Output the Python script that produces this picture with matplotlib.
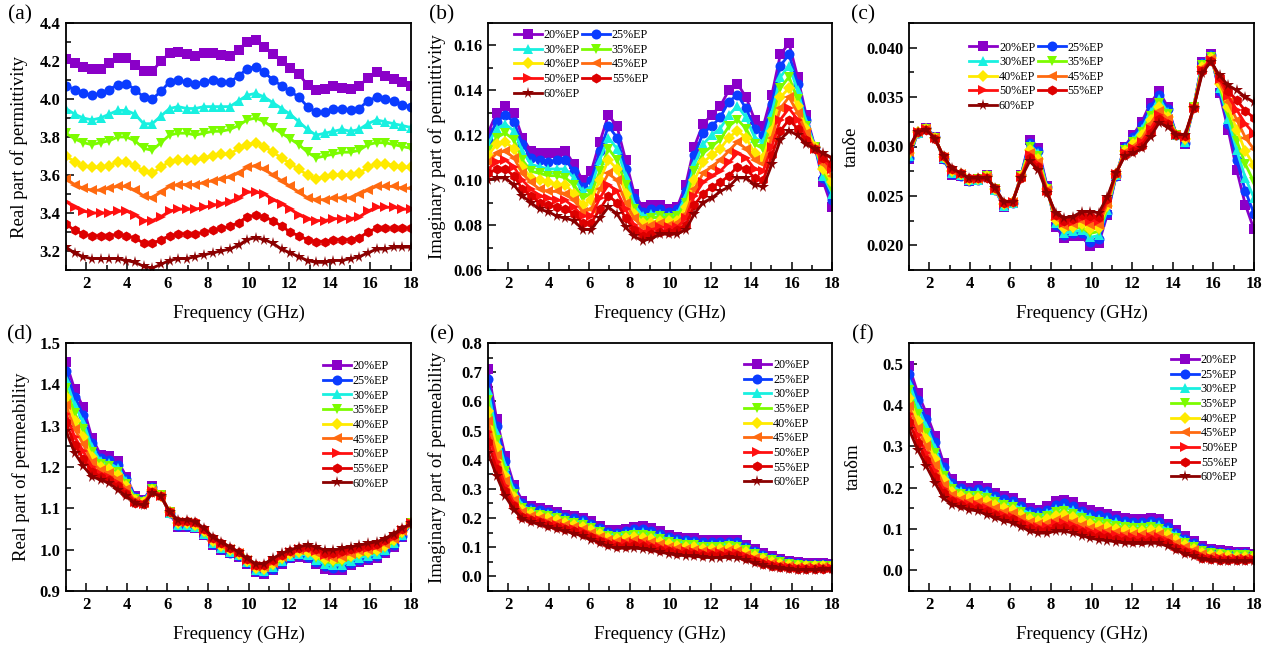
import matplotlib
matplotlib.use('Agg')
import matplotlib.pyplot as plt
from matplotlib.ticker import MultipleLocator, FormatStrFormatter
import numpy as np

plt.rcParams['font.family'] = ['Liberation Serif', 'DejaVu Serif']

# ---------------- data ----------------
freq = [1.0, 1.425, 1.85, 2.275, 2.7, 3.125, 3.55, 3.975, 4.4, 4.825, 5.25, 5.675,
        6.1, 6.525, 6.95, 7.375, 7.8, 8.225, 8.65, 9.075, 9.5, 9.925, 10.35, 10.775,
        11.2, 11.625, 12.05, 12.475, 12.9, 13.325, 13.75, 14.175, 14.6, 15.025,
        15.45, 15.875, 16.3, 16.725, 17.15, 17.575, 18.0]

series_labels = ['20%EP', '25%EP', '30%EP', '35%EP', '40%EP',
                 '45%EP', '50%EP', '55%EP', '60%EP']

# (a) real permittivity, one list per series
eps_real_20 = [4.21,4.19,4.17,4.16,4.16,4.19,4.215,4.215,4.18,4.145,4.145,4.20,4.24,4.25,4.235,4.225,4.24,4.24,4.23,4.225,4.26,4.30,4.31,4.275,4.235,4.20,4.165,4.13,4.075,4.05,4.055,4.07,4.06,4.055,4.07,4.11,4.14,4.12,4.105,4.09,4.07]
eps_real_25 = [4.07,4.05,4.03,4.02,4.03,4.05,4.075,4.08,4.05,4.01,4.00,4.04,4.09,4.10,4.09,4.08,4.09,4.10,4.09,4.09,4.12,4.16,4.17,4.14,4.10,4.07,4.04,4.01,3.96,3.93,3.93,3.95,3.95,3.94,3.95,3.99,4.01,4.00,3.99,3.97,3.96]
eps_real_30 = [3.95,3.92,3.90,3.89,3.90,3.92,3.94,3.94,3.92,3.87,3.87,3.91,3.95,3.96,3.95,3.95,3.96,3.96,3.96,3.96,3.99,4.02,4.03,4.01,3.98,3.95,3.92,3.88,3.84,3.81,3.82,3.83,3.84,3.83,3.84,3.87,3.89,3.88,3.87,3.86,3.85]
eps_real_35 = [3.82,3.79,3.77,3.76,3.77,3.78,3.80,3.80,3.78,3.74,3.73,3.77,3.81,3.82,3.82,3.81,3.82,3.83,3.83,3.84,3.86,3.89,3.90,3.88,3.85,3.82,3.79,3.76,3.72,3.69,3.70,3.71,3.72,3.72,3.73,3.76,3.77,3.77,3.76,3.75,3.74]
eps_real_40 = [3.70,3.67,3.65,3.64,3.64,3.65,3.67,3.67,3.65,3.62,3.61,3.64,3.67,3.68,3.68,3.68,3.69,3.70,3.71,3.71,3.74,3.76,3.77,3.75,3.72,3.69,3.66,3.63,3.60,3.58,3.59,3.60,3.60,3.60,3.61,3.64,3.66,3.66,3.65,3.64,3.64]
eps_real_45 = [3.58,3.55,3.53,3.52,3.52,3.53,3.54,3.54,3.52,3.49,3.48,3.51,3.54,3.55,3.55,3.55,3.56,3.57,3.58,3.59,3.61,3.64,3.65,3.63,3.60,3.57,3.54,3.51,3.48,3.47,3.47,3.48,3.48,3.48,3.50,3.52,3.54,3.54,3.54,3.53,3.53]
eps_real_50 = [3.46,3.43,3.41,3.40,3.40,3.40,3.41,3.41,3.39,3.36,3.36,3.38,3.41,3.42,3.42,3.42,3.43,3.44,3.45,3.46,3.48,3.51,3.51,3.50,3.47,3.45,3.42,3.39,3.37,3.36,3.36,3.37,3.37,3.37,3.38,3.41,3.43,3.43,3.43,3.42,3.42]
eps_real_55 = [3.34,3.31,3.29,3.28,3.28,3.28,3.29,3.28,3.27,3.24,3.24,3.26,3.28,3.29,3.29,3.29,3.30,3.31,3.32,3.33,3.35,3.38,3.39,3.38,3.36,3.33,3.30,3.28,3.26,3.25,3.25,3.26,3.26,3.26,3.27,3.30,3.32,3.32,3.32,3.32,3.32]
eps_real_60 = [3.22,3.19,3.17,3.16,3.16,3.16,3.16,3.15,3.14,3.12,3.11,3.13,3.15,3.16,3.16,3.17,3.18,3.19,3.20,3.21,3.23,3.26,3.27,3.26,3.24,3.21,3.19,3.17,3.15,3.14,3.14,3.15,3.15,3.16,3.17,3.19,3.21,3.21,3.22,3.22,3.22]

# (b) imaginary permittivity, one row per frequency (columns: 20%..60%EP)
eps_imag_rows = [
    [.121,.118,.116,.113,.111,.108,.105,.103,.100],
    [.130,.126,.123,.119,.116,.112,.108,.105,.101],
    [.133,.129,.125,.121,.117,.113,.109,.105,.101],
    [.130,.126,.122,.118,.114,.110,.106,.102,.098],
    [.119,.116,.113,.109,.106,.103,.100,.096,.093],
    [.113,.110,.107,.104,.101,.099,.096,.093,.090],
    [.112,.109,.106,.103,.100,.096,.093,.090,.087],
    [.112,.108,.105,.102,.099,.095,.092,.089,.086],
    [.112,.109,.105,.102,.098,.095,.091,.088,.084],
    [.113,.109,.105,.101,.098,.094,.091,.087,.083],
    [.107,.104,.101,.098,.094,.091,.088,.085,.082],
    [.100,.097,.095,.092,.089,.086,.084,.081,.078],
    [.104,.100,.097,.094,.091,.087,.084,.081,.078],
    [.117,.113,.109,.104,.100,.096,.092,.087,.083],
    [.129,.124,.119,.114,.109,.103,.098,.093,.088],
    [.124,.119,.114,.109,.105,.100,.095,.090,.085],
    [.109,.105,.102,.098,.094,.090,.087,.083,.079],
    [.094,.092,.089,.087,.085,.083,.080,.078,.075],
    [.088,.086,.084,.082,.081,.079,.077,.075,.073],
    [.089,.087,.085,.083,.081,.080,.078,.076,.074],
    [.089,.087,.085,.084,.082,.081,.079,.077,.076],
    [.087,.086,.084,.083,.082,.080,.079,.077,.076],
    [.088,.087,.085,.084,.082,.081,.079,.078,.076],
    [.098,.095,.093,.090,.088,.085,.083,.080,.078],
    [.115,.111,.107,.104,.100,.096,.093,.089,.085],
    [.125,.121,.116,.112,.108,.103,.099,.094,.090],
    [.129,.124,.120,.115,.111,.106,.102,.097,.092],
    [.133,.128,.123,.118,.114,.109,.104,.099,.095],
    [.140,.135,.129,.124,.119,.113,.108,.102,.097],
    [.143,.138,.133,.127,.122,.117,.112,.106,.101],
    [.137,.132,.128,.123,.119,.114,.110,.105,.101],
    [.127,.123,.119,.116,.112,.109,.105,.101,.098],
    [.124,.120,.117,.114,.110,.107,.104,.100,.097],
    [.138,.134,.130,.126,.122,.119,.115,.111,.107],
    [.156,.151,.146,.141,.137,.132,.127,.122,.118],
    [.161,.156,.151,.146,.141,.137,.132,.127,.122],
    [.146,.143,.140,.136,.133,.130,.127,.123,.120],
    [.129,.127,.126,.124,.123,.121,.119,.118,.116],
    [.115,.115,.115,.115,.115,.114,.114,.114,.114],
    [.099,.101,.102,.104,.105,.107,.109,.110,.112],
    [.088,.091,.094,.096,.099,.102,.105,.107,.110],
]

# (c) dielectric loss tangent, one row per frequency
tan_e_rows = [
    [.0287,.0288,.0290,.0291,.0293,.0294,.0296,.0297,.0299],
    [.0314,.0314,.0314,.0314,.0315,.0315,.0315,.0315,.0315],
    [.0319,.0319,.0318,.0318,.0318,.0318,.0318,.0317,.0317],
    [.0310,.0310,.0310,.0309,.0309,.0309,.0309,.0308,.0308],
    [.0287,.0287,.0288,.0288,.0289,.0289,.0289,.0290,.0290],
    [.0271,.0272,.0273,.0274,.0275,.0275,.0276,.0277,.0278],
    [.0270,.0270,.0271,.0271,.0272,.0272,.0272,.0273,.0273],
    [.0265,.0265,.0266,.0266,.0266,.0267,.0267,.0268,.0268],
    [.0266,.0266,.0266,.0267,.0267,.0267,.0267,.0268,.0268],
    [.0271,.0271,.0270,.0270,.0270,.0269,.0269,.0268,.0268],
    [.0256,.0256,.0256,.0257,.0257,.0257,.0257,.0258,.0258],
    [.0239,.0240,.0240,.0241,.0242,.0242,.0243,.0243,.0244],
    [.0243,.0243,.0243,.0243,.0244,.0244,.0244,.0244,.0244],
    [.0271,.0271,.0270,.0270,.0270,.0269,.0269,.0268,.0268],
    [.0307,.0304,.0302,.0299,.0296,.0293,.0291,.0288,.0285],
    [.0298,.0295,.0293,.0290,.0287,.0284,.0282,.0279,.0276],
    [.0260,.0259,.0258,.0257,.0257,.0256,.0255,.0254,.0253],
    [.0219,.0221,.0223,.0224,.0226,.0228,.0230,.0231,.0233],
    [.0207,.0210,.0212,.0215,.0218,.0220,.0223,.0225,.0228],
    [.0209,.0212,.0214,.0217,.0219,.0222,.0224,.0227,.0229],
    [.0209,.0212,.0215,.0218,.0222,.0225,.0228,.0231,.0234],
    [.0199,.0203,.0208,.0212,.0217,.0221,.0225,.0230,.0234],
    [.0202,.0206,.0210,.0214,.0218,.0221,.0225,.0229,.0233],
    [.0231,.0233,.0236,.0238,.0240,.0242,.0245,.0247,.0249],
    [.0270,.0270,.0271,.0271,.0272,.0272,.0272,.0273,.0273],
    [.0300,.0299,.0298,.0296,.0295,.0294,.0293,.0291,.0290],
    [.0312,.0310,.0307,.0305,.0303,.0300,.0298,.0295,.0293],
    [.0325,.0322,.0318,.0315,.0312,.0308,.0305,.0301,.0298],
    [.0344,.0340,.0335,.0331,.0327,.0323,.0318,.0314,.0310],
    [.0356,.0352,.0348,.0344,.0340,.0336,.0332,.0328,.0324],
    [.0340,.0338,.0335,.0333,.0330,.0328,.0325,.0323,.0320],
    [.0312,.0312,.0312,.0312,.0312,.0312,.0312,.0312,.0312],
    [.0303,.0304,.0305,.0306,.0308,.0309,.0310,.0311,.0312],
    [.0340,.0340,.0340,.0340,.0340,.0339,.0339,.0339,.0339],
    [.0386,.0385,.0383,.0382,.0380,.0379,.0377,.0376,.0374],
    [.0394,.0393,.0392,.0391,.0390,.0389,.0388,.0387,.0386],
    [.0354,.0356,.0359,.0361,.0363,.0365,.0368,.0370,.0372],
    [.0317,.0323,.0328,.0334,.0340,.0345,.0351,.0356,.0362],
    [.0276,.0286,.0296,.0306,.0317,.0327,.0337,.0347,.0357],
    [.0241,.0255,.0268,.0282,.0295,.0309,.0323,.0336,.0350],
    [.0216,.0232,.0248,.0264,.0281,.0297,.0313,.0329,.0345],
]

# (d) real permeability, one row per frequency
mu_real_rows = [
    [1.453,1.432,1.412,1.391,1.370,1.349,1.329,1.308,1.287],
    [1.388,1.369,1.350,1.330,1.311,1.292,1.273,1.253,1.234],
    [1.344,1.326,1.309,1.291,1.273,1.255,1.238,1.220,1.202],
    [1.271,1.259,1.248,1.236,1.224,1.212,1.201,1.189,1.177],
    [1.230,1.222,1.215,1.207,1.200,1.192,1.184,1.177,1.169],
    [1.226,1.218,1.210,1.202,1.194,1.185,1.177,1.169,1.161],
    [1.214,1.205,1.197,1.188,1.180,1.171,1.162,1.154,1.145],
    [1.177,1.171,1.165,1.159,1.153,1.147,1.141,1.135,1.129],
    [1.129,1.127,1.125,1.123,1.121,1.118,1.116,1.114,1.112],
    [1.121,1.119,1.118,1.116,1.115,1.113,1.111,1.110,1.108],
    [1.153,1.151,1.149,1.147,1.145,1.143,1.141,1.139,1.137],
    [1.133,1.133,1.132,1.132,1.131,1.131,1.130,1.130,1.129],
    [1.088,1.088,1.089,1.090,1.090,1.090,1.091,1.092,1.092],
    [1.056,1.058,1.060,1.062,1.064,1.066,1.068,1.070,1.072],
    [1.056,1.058,1.060,1.062,1.064,1.066,1.068,1.070,1.072],
    [1.052,1.054,1.056,1.058,1.060,1.062,1.064,1.066,1.068],
    [1.035,1.037,1.039,1.041,1.044,1.046,1.048,1.050,1.052],
    [1.011,1.014,1.016,1.019,1.021,1.024,1.026,1.029,1.031],
    [0.999,1.002,1.004,1.007,1.009,1.012,1.014,1.017,1.019],
    [0.991,0.993,0.995,0.997,0.999,1.001,1.003,1.005,1.007],
    [0.983,0.985,0.986,0.988,0.989,0.991,0.992,0.994,0.995],
    [0.966,0.968,0.969,0.971,0.973,0.974,0.976,0.977,0.979],
    [0.946,0.949,0.951,0.954,0.956,0.959,0.961,0.964,0.966],
    [0.942,0.945,0.948,0.951,0.954,0.957,0.960,0.963,0.966],
    [0.950,0.954,0.957,0.961,0.965,0.968,0.972,0.975,0.979],
    [0.966,0.969,0.972,0.975,0.979,0.982,0.985,0.988,0.991],
    [0.979,0.982,0.984,0.987,0.989,0.992,0.994,0.997,0.999],
    [0.983,0.986,0.989,0.992,0.995,0.998,1.001,1.004,1.007],
    [0.979,0.983,0.987,0.991,0.995,0.999,1.003,1.007,1.011],
    [0.966,0.971,0.976,0.981,0.987,0.992,0.997,1.002,1.007],
    [0.954,0.960,0.965,0.971,0.977,0.982,0.988,0.993,0.999],
    [0.950,0.956,0.962,0.968,0.975,0.981,0.987,0.993,0.999],
    [0.950,0.957,0.963,0.970,0.977,0.983,0.990,0.996,1.003],
    [0.962,0.968,0.973,0.979,0.985,0.990,0.996,1.001,1.007],
    [0.971,0.976,0.981,0.986,0.991,0.996,1.001,1.006,1.011],
    [0.975,0.980,0.985,0.990,0.995,1.000,1.005,1.010,1.015],
    [0.979,0.984,0.989,0.994,0.999,1.004,1.009,1.014,1.019],
    [0.991,0.996,1.000,1.005,1.009,1.014,1.018,1.023,1.027],
    [1.007,1.011,1.015,1.019,1.023,1.027,1.031,1.035,1.039],
    [1.031,1.034,1.036,1.039,1.042,1.044,1.047,1.049,1.052],
    [1.064,1.064,1.064,1.064,1.064,1.064,1.064,1.064,1.064],
]

# (e) imaginary permeability, one row per frequency
mu_imag_rows = [
    [.711,.675,.639,.603,.568,.532,.496,.460,.424],
    [.539,.515,.490,.466,.442,.417,.393,.368,.344],
    [.413,.396,.379,.361,.344,.327,.310,.292,.275],
    [.315,.304,.294,.283,.272,.261,.251,.240,.229],
    [.258,.250,.243,.235,.228,.220,.212,.205,.197],
    [.241,.234,.227,.220,.214,.207,.200,.193,.186],
    [.233,.226,.219,.212,.206,.199,.192,.185,.178],
    [.227,.220,.213,.206,.199,.191,.184,.177,.170],
    [.220,.213,.206,.199,.192,.184,.177,.170,.163],
    [.212,.205,.198,.191,.184,.176,.169,.162,.155],
    [.206,.199,.191,.184,.177,.169,.162,.154,.147],
    [.201,.193,.185,.177,.170,.162,.154,.146,.138],
    [.189,.181,.173,.165,.158,.150,.142,.134,.126],
    [.172,.165,.158,.151,.144,.136,.129,.122,.115],
    [.158,.151,.144,.137,.131,.124,.117,.110,.103],
    [.158,.150,.143,.135,.128,.120,.112,.105,.097],
    [.163,.155,.147,.138,.130,.122,.114,.105,.097],
    [.170,.161,.152,.143,.134,.124,.115,.106,.097],
    [.172,.162,.153,.143,.133,.123,.113,.104,.094],
    [.166,.156,.147,.137,.128,.118,.108,.099,.089],
    [.155,.146,.137,.128,.119,.110,.101,.092,.083],
    [.143,.135,.127,.119,.111,.102,.094,.086,.078],
    [.135,.127,.120,.112,.104,.096,.088,.081,.073],
    [.132,.124,.117,.109,.102,.094,.086,.079,.071],
    [.130,.122,.115,.107,.100,.092,.084,.077,.069],
    [.124,.117,.109,.102,.095,.088,.080,.073,.066],
    [.124,.117,.109,.102,.094,.087,.079,.072,.064],
    [.124,.117,.109,.102,.094,.087,.079,.072,.064],
    [.126,.119,.111,.104,.096,.089,.081,.074,.066],
    [.124,.117,.109,.102,.094,.087,.079,.072,.064],
    [.109,.102,.096,.089,.082,.075,.069,.062,.055],
    [.094,.088,.082,.076,.070,.064,.058,.052,.046],
    [.080,.075,.070,.064,.059,.054,.049,.043,.038],
    [.069,.064,.060,.055,.051,.046,.041,.037,.032],
    [.060,.056,.052,.048,.044,.040,.036,.032,.028],
    [.052,.049,.045,.042,.038,.035,.031,.028,.024],
    [.048,.045,.042,.039,.036,.032,.029,.026,.023],
    [.046,.043,.040,.037,.035,.032,.029,.026,.023],
    [.046,.043,.040,.037,.035,.032,.029,.026,.023],
    [.045,.042,.040,.037,.035,.032,.029,.027,.024],
    [.044,.042,.039,.037,.035,.032,.030,.027,.025],
]

# (f) magnetic loss tangent, one row per frequency
tan_m_rows = [
    [.494,.475,.456,.437,.418,.398,.379,.360,.341],
    [.430,.413,.396,.378,.361,.344,.327,.309,.292],
    [.381,.365,.349,.333,.317,.300,.284,.268,.252],
    [.325,.311,.297,.283,.269,.254,.240,.226,.212],
    [.260,.249,.239,.228,.218,.207,.196,.186,.175],
    [.220,.212,.205,.197,.190,.182,.174,.167,.159],
    [.204,.198,.191,.185,.179,.172,.166,.159,.153],
    [.200,.193,.187,.180,.174,.167,.160,.154,.147],
    [.204,.196,.189,.181,.174,.166,.158,.151,.143],
    [.200,.192,.184,.176,.168,.159,.151,.143,.135],
    [.187,.180,.172,.165,.157,.150,.142,.135,.127],
    [.179,.172,.164,.157,.150,.142,.135,.127,.120],
    [.175,.168,.160,.153,.145,.138,.130,.123,.115],
    [.163,.156,.149,.141,.134,.127,.119,.112,.105],
    [.151,.144,.137,.130,.123,.116,.109,.102,.095],
    [.147,.140,.133,.126,.119,.111,.104,.097,.090],
    [.155,.147,.139,.131,.123,.114,.106,.098,.090],
    [.167,.158,.149,.140,.131,.122,.113,.104,.095],
    [.171,.162,.152,.143,.133,.124,.114,.105,.095],
    [.165,.156,.146,.137,.128,.118,.109,.099,.090],
    [.153,.144,.136,.127,.119,.110,.101,.093,.084],
    [.145,.137,.128,.120,.112,.103,.095,.086,.078],
    [.141,.133,.124,.116,.108,.099,.091,.082,.074],
    [.137,.129,.121,.113,.105,.096,.088,.080,.072],
    [.131,.123,.116,.108,.100,.092,.085,.077,.069],
    [.127,.119,.112,.104,.097,.089,.081,.074,.066],
    [.124,.117,.109,.102,.095,.087,.080,.072,.065],
    [.124,.117,.109,.102,.095,.087,.080,.072,.065],
    [.127,.119,.112,.104,.097,.089,.081,.074,.066],
    [.123,.116,.109,.101,.094,.087,.080,.072,.065],
    [.111,.104,.098,.091,.085,.078,.071,.065,.058],
    [.097,.091,.085,.079,.073,.066,.060,.054,.048],
    [.082,.077,.072,.066,.061,.056,.051,.045,.040],
    [.070,.066,.061,.057,.052,.048,.043,.039,.034],
    [.058,.054,.050,.046,.043,.039,.035,.031,.027],
    [.052,.049,.045,.042,.038,.035,.031,.028,.024],
    [.048,.045,.042,.039,.036,.032,.029,.026,.023],
    [.046,.043,.040,.037,.034,.031,.028,.025,.022],
    [.044,.041,.039,.036,.033,.030,.028,.025,.022],
    [.044,.041,.039,.036,.033,.030,.028,.025,.022],
    [.040,.038,.036,.034,.032,.029,.027,.025,.023],
]

# ---------------- styles ----------------
colors = ['#8A00C8', '#0A3CFF', '#18F0E0', '#7CFC00', '#FFEA00',
          '#FF6A10', '#FF1010', '#DD0000', '#8B0000']
markers = ['s', 'o', '^', 'v', 'D', '<', '>', 'h', '*']
msizes = [7.2, 7.2, 7.5, 7.5, 6.2, 7.5, 7.5, 7.2, 8.5]

eps_real_series = [eps_real_20, eps_real_25, eps_real_30, eps_real_35, eps_real_40,
                   eps_real_45, eps_real_50, eps_real_55, eps_real_60]

W, H = 1277, 647
fig = plt.figure(figsize=(W / 100, H / 100), dpi=100)

def px_axes(l, t, r, b):
    return fig.add_axes([l / W, 1 - b / H, (r - l) / W, (b - t) / H])

panels = [
    dict(box=(66, 23, 411, 270), data=eps_real_series, ylim=(3.1, 4.4), major=0.2, minor=0.1,
         fmt='%.1f', ylabel='Real part of permittivity', tag='(a)', ylab_x=-0.11,
         legend=None),
    dict(box=(488, 23, 832, 270), data=np.array(eps_imag_rows).T, ylim=(0.06, 0.17), major=0.02,
         minor=0.01, fmt='%.2f', ylabel='Imaginary part of permittivity', tag='(b)', ylab_x=-0.122,
         legend=dict(ncol=2, anchor=(0.075, 0.975))),
    dict(box=(909, 23, 1254, 270), data=np.array(tan_e_rows).T, ylim=(0.0175, 0.0425), major=0.005,
         minor=0.0025, fmt='%.3f', ylabel='tanδe', tag='(c)', ylab_x=-0.142,
         legend=dict(ncol=2, anchor=(0.175, 0.925))),
    dict(box=(66, 343, 411, 591), data=np.array(mu_real_rows).T, ylim=(0.9, 1.5), major=0.1,
         minor=0.05, fmt='%.1f', ylabel='Real part of permeability', tag='(d)', ylab_x=-0.104,
         legend=dict(ncol=1, anchor=(0.745, 0.93))),
    dict(box=(488, 343, 832, 591), data=np.array(mu_imag_rows).T, ylim=(-0.05, 0.8), major=0.1,
         minor=0.05, fmt='%.1f', ylabel='Imaginary part of permeability', tag='(e)', ylab_x=-0.122,
         legend=dict(ncol=1, anchor=(0.743, 0.935))),
    dict(box=(909, 343, 1254, 591), data=np.array(tan_m_rows).T, ylim=(-0.05, 0.55), major=0.1,
         minor=0.05, fmt='%.1f', ylabel='tanδm', tag='(f)', ylab_x=-0.136,
         legend=dict(ncol=1, anchor=(0.76, 0.955))),
]

for p in panels:
    ax = px_axes(*p['box'])
    handles = []
    for k, ys in enumerate(p['data']):
        h, = ax.plot(freq, ys, color=colors[k], marker=markers[k], markersize=msizes[k],
                     markeredgewidth=0, linewidth=2.0, label=series_labels[k])
        handles.append(h)
    ax.set_xlim(1, 18)
    ax.set_ylim(*p['ylim'])
    ax.xaxis.set_major_locator(MultipleLocator(2))
    ax.xaxis.set_minor_locator(MultipleLocator(1))
    ax.yaxis.set_major_locator(MultipleLocator(p['major']))
    ax.yaxis.set_minor_locator(MultipleLocator(p['minor']))
    ax.yaxis.set_major_formatter(FormatStrFormatter(p['fmt']))
    ax.tick_params(which='both', direction='in', top=False, right=False, width=1.1)
    ax.tick_params(which='major', length=5.5, labelsize=12, pad=4)
    ax.tick_params(which='minor', length=3.5)
    for lab in ax.get_xticklabels() + ax.get_yticklabels():
        lab.set_fontweight('bold')
    for s in ax.spines.values():
        s.set_linewidth(1.3)
    ax.set_xlabel('Frequency (GHz)', fontsize=13.5)
    ax.xaxis.set_label_coords(0.5, -0.14)
    ax.set_ylabel(p['ylabel'], fontsize=13.5)
    ax.yaxis.set_label_coords(p['ylab_x'], 0.5)
    if p['legend'] is not None:
        lg = p['legend']
        if lg['ncol'] == 2:
            order = [0, 2, 4, 6, 8, 1, 3, 5, 7]
        else:
            order = list(range(9))
        ax.legend([handles[i] for i in order], [series_labels[i] for i in order],
                  loc='upper left', bbox_to_anchor=lg['anchor'], ncol=lg['ncol'],
                  frameon=False, fontsize=8.7, numpoints=1, handlelength=2.3,
                  handletextpad=0.15, labelspacing=0.22, columnspacing=0.2,
                  borderpad=0, borderaxespad=0)
    l, t, r, b = p['box']
    fig.text((l - 46) / W, 1 - (t - 8) / H, p['tag'], fontsize=15.5, ha='center', va='center')

fig.savefig('out.png', dpi=100)
